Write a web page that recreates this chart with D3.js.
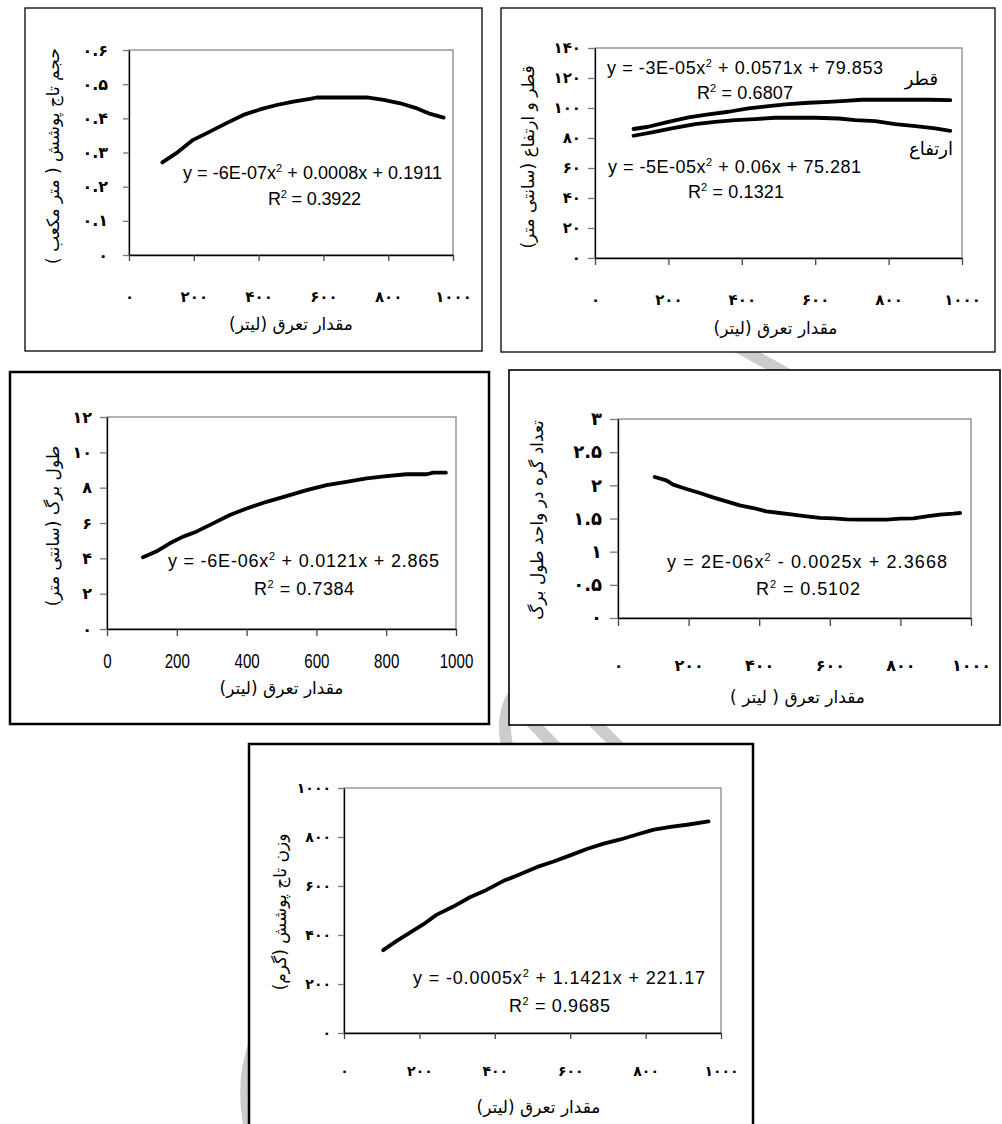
<!DOCTYPE html>
<html>
<head>
<meta charset="utf-8">
<script src="https://cdn.jsdelivr.net/npm/d3@7"></script>
<style>
  body { margin: 0; background: #fff; }
  svg { display: block; }
  .fa { font-family: "DejaVu Sans", sans-serif; }
  .eq { font-family: "Liberation Sans", Arial, sans-serif; }
</style>
</head>
<body>
<div id="chart"></div>
<script>
// ---- data ----
var xTicks = [0, 200, 400, 600, 800, 1000];
var xLabelsFa = ["۰", "۲۰۰", "۴۰۰", "۶۰۰", "۸۰۰", "۱۰۰۰"];
var xLabelsEn = ["0", "200", "400", "600", "800", "1000"];

// crown volume
var volX = [103, 146, 198, 239, 301, 353, 404, 456, 507, 559, 579, 631, 682, 734, 786, 837, 889, 930, 971];
var volY = [0.271, 0.298, 0.337, 0.356, 0.386, 0.41, 0.426, 0.439, 0.449, 0.457, 0.461, 0.461, 0.461, 0.461, 0.454, 0.444, 0.429, 0.413, 0.402];
var volTicks = [0, 0.1, 0.2, 0.3, 0.4, 0.5, 0.6];
var volLabels = ["۰", "۰.۱", "۰.۲", "۰.۳", "۰.۴", "۰.۵", "۰.۶"];

// diameter and height
var diamX = [105, 145, 200, 255, 309, 364, 418, 473, 527, 582, 636, 682, 727, 818, 909, 968];
var diamY = [86, 87.5, 90.8, 93.7, 95.7, 97.5, 99.7, 101.2, 102.6, 103.5, 104.1, 104.8, 105.5, 105.5, 105.5, 105.2];
var heightX = [105, 155, 209, 273, 327, 382, 436, 491, 545, 600, 664, 709, 764, 818, 873, 927, 968];
var heightY = [81.5, 83.7, 86.4, 89.3, 90.8, 91.9, 92.6, 93.5, 93.5, 93.5, 93.0, 91.9, 91.3, 89.3, 87.9, 86.4, 84.8];
var dhTicks = [0, 20, 40, 60, 80, 100, 120, 140];
var dhLabels = ["۰", "۲۰", "۴۰", "۶۰", "۸۰", "۱۰۰", "۱۲۰", "۱۴۰"];

// leaf length
var leafX = [103, 141, 180, 218, 256, 304, 352, 400, 457, 514, 572, 629, 686, 744, 801, 858, 916, 935, 971];
var leafY = [4.06, 4.38, 4.85, 5.23, 5.51, 5.98, 6.45, 6.82, 7.2, 7.52, 7.86, 8.14, 8.33, 8.52, 8.65, 8.76, 8.76, 8.85, 8.85];
var leafTicks = [0, 2, 4, 6, 8, 10, 12];
var leafLabels = ["۰", "۲", "۴", "۶", "۸", "۱۰", "۱۲"];

// nodes per unit leaf length
var nodeX = [104, 137, 156, 194, 232, 269, 307, 345, 383, 420, 458, 496, 534, 572, 610, 648, 686, 723, 761, 799, 837, 874, 912, 950, 969];
var nodeY = [2.126, 2.075, 2.01, 1.945, 1.884, 1.819, 1.759, 1.698, 1.658, 1.608, 1.583, 1.558, 1.533, 1.508, 1.503, 1.487, 1.482, 1.482, 1.482, 1.497, 1.503, 1.533, 1.558, 1.573, 1.583];
var nodeTicks = [0, 0.5, 1, 1.5, 2, 2.5, 3];
var nodeLabels = ["۰", "۰.۵", "۱", "۱.۵", "۲", "۲.۵", "۳"];

// crown weight
var wtX = [104, 139, 174, 210, 245, 290, 334, 378, 422, 467, 511, 556, 600, 644, 689, 733, 777, 822, 866, 910, 967];
var wtY = [338, 375, 409, 443, 482, 516, 554, 584, 620, 648, 677, 700, 725, 751, 773, 790, 810, 830, 841, 850, 864];
var wtTicks = [0, 200, 400, 600, 800, 1000];
var wtLabels = ["۰", "۲۰۰", "۴۰۰", "۶۰۰", "۸۰۰", "۱۰۰۰"];

var xTitle = "مقدار تعرق (لیتر)";
var xTitle2 = "مقدار تعرق ( لیتر )";

var svg = d3.select("#chart").append("svg")
  .attr("width", 1002)
  .attr("height", 1124);

svg.append("rect").attr("width", 1002).attr("height", 1124).attr("fill", "#fff");

// faint watermark behind the boxes
var wm = svg.append("g").attr("fill", "none").attr("stroke", "#cccccc").attr("stroke-width", 12);
wm.append("path").attr("d", "M 722 338 L 812 388");
wm.append("path").attr("d", "M 520 685 Q 496 715 510 755");
wm.append("path").attr("d", "M 522 712 L 568 760");
wm.append("path").attr("d", "M 584 712 L 632 760");
wm.append("path").attr("d", "M 256 1040 Q 240 1080 250 1130");

function eqText(g, x, y, w, pre, post) {
  var t = g.append("text").attr("class", "eq")
    .attr("x", x).attr("y", y)
    .attr("textLength", w).attr("lengthAdjust", "spacing")
    .style("font-size", "18px").attr("fill", "#000");
  t.append("tspan").text(pre);
  t.append("tspan").attr("dy", -7).style("font-size", "11px").text("2");
  t.append("tspan").attr("dy", 7).text(post);
}

function panel(o) {
  var g = svg.append("g");
  // outer box
  g.append("rect")
    .attr("x", o.box[0]).attr("y", o.box[1])
    .attr("width", o.box[2] - o.box[0]).attr("height", o.box[3] - o.box[1])
    .attr("fill", "#fff").attr("stroke", "#000").attr("stroke-width", o.bw);

  var l = o.plot[0], t = o.plot[1], r = o.plot[2], b = o.plot[3];
  var x = d3.scaleLinear().domain([0, 1000]).range([l, r]);
  var y = d3.scaleLinear().domain(o.yDomain).range([b, t]);

  // gray frame (top/right)
  g.append("rect").attr("x", l).attr("y", t).attr("width", r - l).attr("height", b - t)
    .attr("fill", "none").attr("stroke", "#888").attr("stroke-width", 1.3);

  var ya = g.append("g").attr("transform", "translate(" + l + ",0)")
    .call(d3.axisLeft(y).tickValues(o.yTicks).tickFormat(function (d, i) { return o.yLabels[i]; })
      .tickSize(o.tick).tickSizeOuter(0).tickPadding(o.yPad));
  ya.select(".domain").attr("stroke", "#000").attr("stroke-width", 1.3);
  ya.selectAll(".tick line").attr("stroke", "#777").attr("stroke-width", 1.3);
  ya.selectAll("text").attr("class", "fa").attr("fill", "#000")
    .style("font-size", o.yFont + "px").style("font-weight", "bold");

  var xa = g.append("g").attr("transform", "translate(0," + b + ")")
    .call(d3.axisBottom(x).tickValues(xTicks).tickFormat(function (d, i) { return o.xLabels[i]; })
      .tickSize(o.tick).tickSizeOuter(0));
  xa.select(".domain").attr("stroke", "#000").attr("stroke-width", 1.3);
  xa.selectAll(".tick line").attr("stroke", "#444").attr("stroke-width", 1.3);
  var xt = xa.selectAll("text").attr("y", o.xLabY - b).attr("dy", "0.35em").attr("fill", "#000");
  if (o.latin) {
    // condensed Latin digits
    xt.style("font-family", '"Liberation Sans", Arial, sans-serif')
      .style("font-size", "21px")
      .attr("textLength", function (d, i) { return o.xLabels[i].length * 8.4; })
      .attr("lengthAdjust", "spacingAndGlyphs");
  } else {
    xt.attr("class", "fa").style("font-size", o.xFont + "px").style("font-weight", "bold");
  }

  // curves
  var line = d3.line().x(function (d) { return x(d[0]); }).y(function (d) { return y(d[1]); });
  o.series.forEach(function (s) {
    g.append("path")
      .attr("d", line(d3.zip(s[0], s[1])))
      .attr("fill", "none").attr("stroke", "#000").attr("stroke-width", 3.8)
      .attr("stroke-linejoin", "round").attr("stroke-linecap", "round");
  });

  // titles
  g.append("text").attr("class", "fa")
    .attr("x", (l + r) / 2 + (o.xTitleDx || 0)).attr("y", o.xTitleY).attr("dy", "0.35em")
    .attr("text-anchor", "middle").style("font-size", "17px").text(o.xTitle);
  g.append("text").attr("class", "fa")
    .attr("transform", "translate(" + o.yTitleX + "," + o.yTitleY + ") rotate(-90)")
    .attr("dy", "0.35em").attr("text-anchor", "middle").style("font-size", "17px").text(o.yTitle);

  o.eqs.forEach(function (e) { eqText(g, e[0], e[1], e[2], e[3], e[4]); });
  return g;
}

// panel 1 : crown volume
panel({
  box: [25, 8, 482, 351], bw: 1.3, plot: [129, 50, 453, 255],
  yDomain: [0, 0.6], yTicks: volTicks, yLabels: volLabels, yFont: 16, yPad: 15, tick: 6,
  xLabels: xLabelsFa, xFont: 15, xLabY: 297,
  series: [[volX, volY]],
  xTitle: xTitle, xTitleY: 324, xTitleDx: 0,
  yTitle: "حجم تاج پوشش ( متر مکعب )", yTitleX: 53, yTitleY: 156,
  eqs: [[183, 179, 259, "y = -6E-07x", " + 0.0008x + 0.1911"],
        [268, 205, 93, "R", " = 0.3922"]]
});

// panel 2 : diameter and height
var p2 = panel({
  box: [501, 8, 995, 352], bw: 1.3, plot: [595, 48, 962, 258],
  yDomain: [0, 140], yTicks: dhTicks, yLabels: dhLabels, yFont: 15, yPad: 7, tick: 7,
  xLabels: xLabelsFa, xFont: 15, xLabY: 300,
  series: [[diamX, diamY], [heightX, heightY]],
  xTitle: xTitle, xTitleY: 328, xTitleDx: -3,
  yTitle: "قطر و ارتفاع (سانتی متر)", yTitleX: 528, yTitleY: 157,
  eqs: [[607, 74, 276, "y = -3E-05x", " + 0.0571x + 79.853"],
        [697, 99, 96, "R", " = 0.6807"],
        [608, 173, 253, "y = -5E-05x", " + 0.06x + 75.281"],
        [688, 198, 96, "R", " = 0.1321"]]
});
p2.append("text").attr("class", "fa").attr("x", 938).attr("y", 85).attr("text-anchor", "end")
  .style("font-size", "18px").text("قطر");
p2.append("text").attr("class", "fa").attr("x", 953).attr("y", 155).attr("text-anchor", "end")
  .style("font-size", "18px").text("ارتفاع");

// panel 3 : leaf length
panel({
  box: [10, 372, 489, 724], bw: 2.5, plot: [107, 417, 456, 629],
  yDomain: [0, 12], yTicks: leafTicks, yLabels: leafLabels, yFont: 16, yPad: 8, tick: 7,
  xLabels: xLabelsEn, latin: true, xLabY: 661,
  series: [[leafX, leafY]],
  xTitle: xTitle, xTitleY: 688, xTitleDx: 0,
  yTitle: "طول برگ (سانتی متر)", yTitleX: 53, yTitleY: 526,
  eqs: [[168, 567, 271, "y = -6E-06x", " + 0.0121x + 2.865"],
        [254, 595, 100, "R", " = 0.7384"]]
});

// panel 4 : nodes per unit leaf length
panel({
  box: [509, 370, 1000, 725], bw: 1.6, plot: [618, 419, 971, 618],
  yDomain: [0, 3], yTicks: nodeTicks, yLabels: nodeLabels, yFont: 18, yPad: 8, tick: 8,
  xLabels: xLabelsFa, xFont: 16, xLabY: 665,
  series: [[nodeX, nodeY]],
  xTitle: xTitle2, xTitleY: 697, xTitleDx: 3,
  yTitle: "تعداد گره در واحد طول برگ", yTitleX: 537, yTitleY: 520,
  eqs: [[667, 568, 280, "y = 2E-06x", " - 0.0025x + 2.3668"],
        [756, 595, 104, "R", " = 0.5102"]]
});

// panel 5 : crown weight
panel({
  box: [249, 744, 753, 1135], bw: 2.5, plot: [344, 788, 721, 1033],
  yDomain: [0, 1000], yTicks: wtTicks, yLabels: wtLabels, yFont: 14, yPad: 7, tick: 6,
  xLabels: xLabelsFa, xFont: 14, xLabY: 1071,
  series: [[wtX, wtY]],
  xTitle: xTitle, xTitleY: 1107, xTitleDx: 6,
  yTitle: "وزن تاج پوشش (گرم)", yTitleX: 280, yTitleY: 912,
  eqs: [[413, 984, 292, "y = -0.0005x", " + 1.1421x + 221.17"],
        [509, 1012, 101, "R", " = 0.9685"]]
});
</script>
</body>
</html>
